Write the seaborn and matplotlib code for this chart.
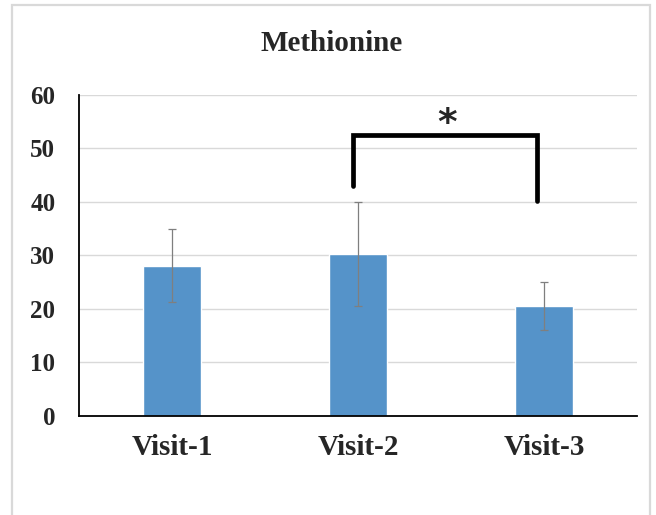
import matplotlib
matplotlib.use("Agg")
import matplotlib.pyplot as plt
import matplotlib.patches as mpatches
import pandas as pd
import seaborn as sns

# values
visits = ["Visit-1", "Visit-2", "Visit-3"]
means = [28.1, 30.2, 20.6]
errors = [6.8, 9.7, 4.5]

# significance bracket between Visit-2 and Visit-3
bracket_x = [0.973, 0.973, 1.965, 1.965]
bracket_y = [42.9, 52.5, 52.5, 40.1]
star_pos = (1.479, 54.6)

BAR_COLOR = "#5593C9"
GRID_COLOR = "#D9D9D9"


def main():
    sns.set_style("white")
    plt.rcParams["font.family"] = ["Liberation Serif", "DejaVu Serif"]

    df = pd.DataFrame({"visit": visits, "value": means})

    fig = plt.figure(figsize=(6.56, 5.15), dpi=100)
    ax = fig.add_axes([0.1204, 0.1928, 0.8506, 0.6227])

    sns.barplot(data=df, x="visit", y="value", color=BAR_COLOR,
                saturation=1, width=0.31, errorbar=None, ax=ax, zorder=2)
    ax.errorbar(range(len(visits)), means, yerr=errors, fmt="none",
                ecolor="#7F7F7F", elinewidth=0.9, capsize=2.6,
                capthick=0.9, zorder=3)

    ax.set_ylim(0, 60)
    ax.set_xlim(-0.5, 2.5)
    ax.set_yticks(range(0, 61, 10))
    ax.yaxis.grid(True, color=GRID_COLOR, linewidth=1.0, zorder=0)
    ax.set_axisbelow(True)
    ax.set_xlabel("")
    ax.set_ylabel("")

    for side in ["top", "right"]:
        ax.spines[side].set_visible(False)
    ax.spines["left"].set_color("black")
    ax.spines["left"].set_linewidth(1.3)
    ax.spines["bottom"].set_color("black")
    ax.spines["bottom"].set_linewidth(1.3)

    ax.tick_params(axis="y", length=0, pad=17, labelsize=18)
    ax.tick_params(axis="x", length=0, pad=13, labelsize=21)
    for lab in ax.get_xticklabels() + ax.get_yticklabels():
        lab.set_fontweight("bold")

    ax.plot(bracket_x, bracket_y, color="black", linewidth=3.4,
            solid_joinstyle="miter", clip_on=False, zorder=4)
    ax.text(star_pos[0], star_pos[1], "*", ha="center", va="center",
            fontsize=27, fontweight="heavy", family="DejaVu Sans",
            clip_on=False)

    fig.text(0.506, 0.915, "Methionine", ha="center", va="center",
             fontsize=21, fontweight="bold")

    # light frame round the whole chart
    frame = mpatches.Rectangle((12 / 656, -0.05), 638 / 656, 1.04,
                               transform=fig.transFigure, fill=False,
                               edgecolor="#D9D9D9", linewidth=1.6)
    fig.patches.append(frame)

    fig.savefig("out.png", dpi=100)
    plt.close(fig)


if __name__ == "__main__":
    main()
